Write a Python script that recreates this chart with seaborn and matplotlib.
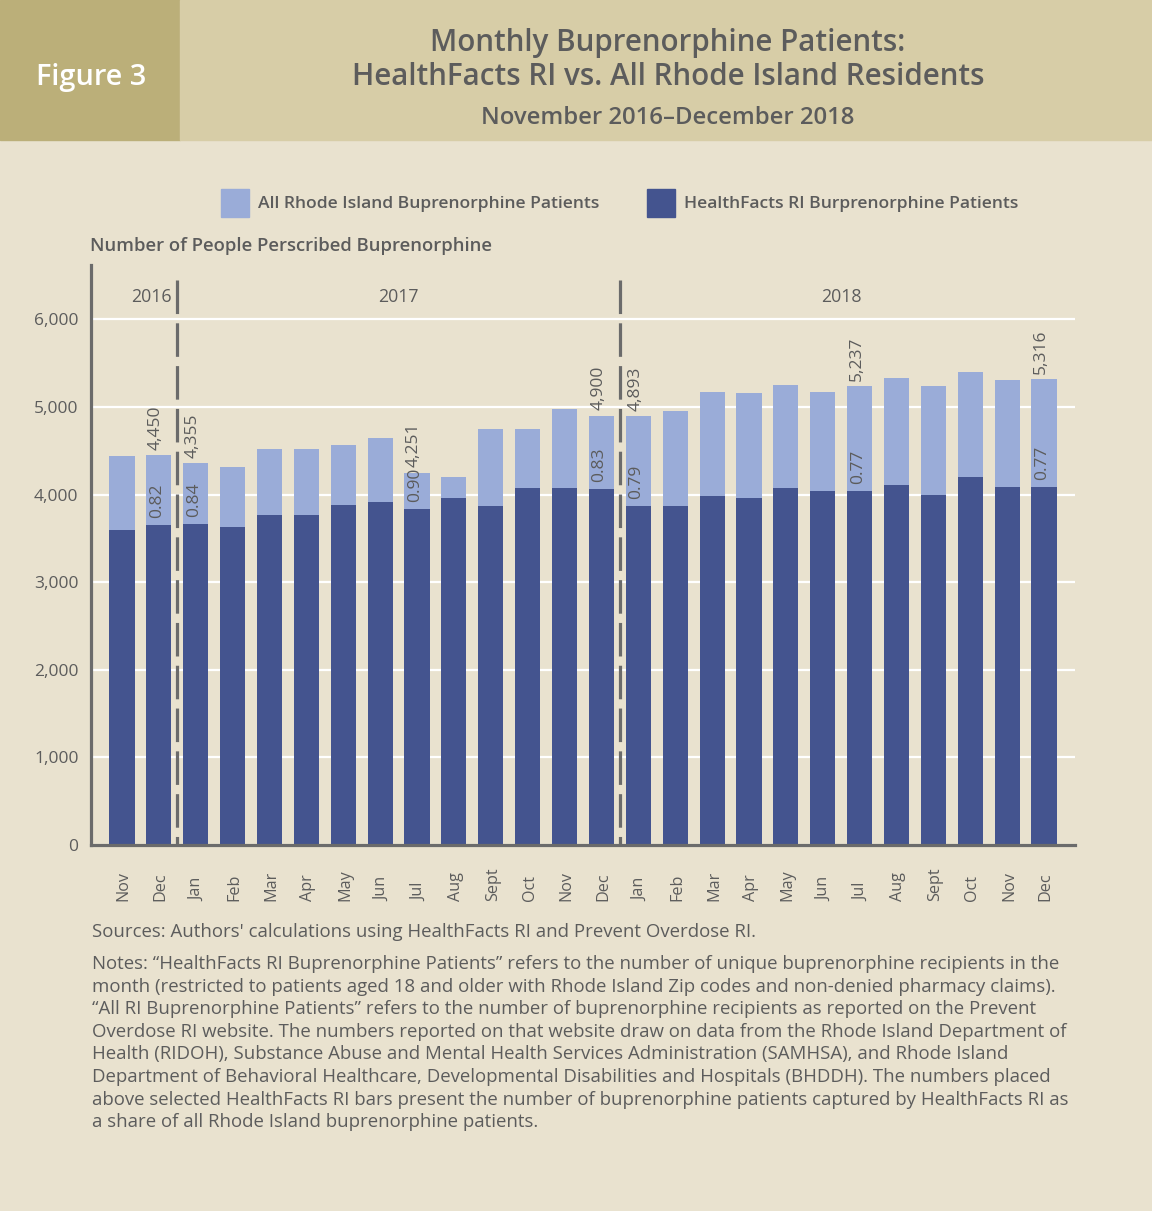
import matplotlib
matplotlib.use("Agg")
import matplotlib.pyplot as plt
import matplotlib.transforms as mtransforms
from matplotlib.patches import Rectangle
import seaborn as sns
import pandas as pd

# ---------------- data ----------------
months = ["Nov", "Dec", "Jan", "Feb", "Mar", "Apr", "May", "Jun", "Jul", "Aug", "Sept", "Oct", "Nov", "Dec",
          "Jan", "Feb", "Mar", "Apr", "May", "Jun", "Jul", "Aug", "Sept", "Oct", "Nov", "Dec"]
years = [2016, 2016] + [2017] * 12 + [2018] * 12
all_ri = [4440, 4450, 4355, 4310, 4515, 4515, 4560, 4650, 4251, 4205, 4745, 4745, 4975, 4900,
          4893, 4950, 5165, 5155, 5245, 5175, 5237, 5325, 5235, 5395, 5305, 5316]
healthfacts = [3600, 3650, 3660, 3625, 3770, 3770, 3885, 3910, 3830, 3965, 3865, 4070, 4070, 4060,
               3870, 3865, 3980, 3965, 4080, 4045, 4045, 4105, 4000, 4195, 4090, 4090]
label_idx = [1, 2, 8, 13, 14, 20, 25]
total_labels = ["4,450", "4,355", "4,251", "4,900", "4,893", "5,237", "5,316"]
ratio_labels = ["0.82", "0.84", "0.90", "0.83", "0.79", "0.77", "0.77"]
year_names = ["2016", "2017", "2018"]
yticks = [0, 1000, 2000, 3000, 4000, 5000, 6000]
ytick_labels = ["0", "1,000", "2,000", "3,000", "4,000", "5,000", "6,000"]

# ---------------- style ----------------
W, H = 1152, 1211
BG = "#E9E2CF"
BAND = "#D7CDA7"
BOX = "#BBAF79"
LIGHT = "#9AACD8"
DARK = "#44548F"
TXT = "#5C5C5C"
SPINE = "#6B6B6B"

sns.set_theme(style="white")
plt.rcParams["font.family"] = ["Open Sans", "DejaVu Sans"]

fig = plt.figure(figsize=(W / 100, H / 100), dpi=100)
fig.patch.set_facecolor(BG)


def fx(px):
    return px / W


def fy(py):
    return 1 - py / H


# header
fig.patches.append(Rectangle((0, fy(140)), fx(180), 140 / H, transform=fig.transFigure, color=BOX, zorder=0))
fig.patches.append(Rectangle((fx(180), fy(140)), 1 - fx(180), 140 / H, transform=fig.transFigure, color=BAND, zorder=0))
fig.text(fx(91), fy(78), "Figure 3", color="white", fontsize=20.8, fontweight="semibold", ha="center", va="center")
fig.text(fx(668), fy(43), "Monthly Buprenorphine Patients:", color=TXT, fontsize=21.3, fontweight="semibold",
         ha="center", va="center")
fig.text(fx(668), fy(77), "HealthFacts RI vs. All Rhode Island Residents", color=TXT, fontsize=21.3,
         fontweight="semibold", ha="center", va="center")
fig.text(fx(668), fy(118), "November 2016\u2013December 2018", color=TXT, fontsize=17.2, fontweight="semibold",
         ha="center", va="center")

# legend
fig.patches.append(Rectangle((fx(221), fy(217)), fx(28), 28 / H, transform=fig.transFigure, color=LIGHT))
fig.text(fx(258), fy(204), "All Rhode Island Buprenorphine Patients", color=TXT, fontsize=12.6,
         fontweight="semibold", ha="left", va="center")
fig.patches.append(Rectangle((fx(647), fy(217)), fx(28), 28 / H, transform=fig.transFigure, color=DARK))
fig.text(fx(684), fy(204), "HealthFacts RI Burprenorphine Patients", color=TXT, fontsize=12.6,
         fontweight="semibold", ha="left", va="center")
fig.text(fx(90), fy(246), "Number of People Perscribed Buprenorphine", color=TXT, fontsize=13.3,
         fontweight="semibold", ha="left", va="center")

# axes
ax_l, ax_r, ax_t, ax_b = 91, 1075, 265, 845
ax = fig.add_axes([fx(ax_l), fy(ax_b), (ax_r - ax_l) / W, (ax_b - ax_t) / H])
ax.set_facecolor(BG)

df = pd.DataFrame({"pos": list(range(len(months))), "month": months, "year": years,
                   "all_ri": all_ri, "hf": healthfacts})

sns.barplot(data=df, x="pos", y="all_ri", color=LIGHT, saturation=1, width=0.68, ax=ax, zorder=3,
            linewidth=0, edgecolor="none")
sns.barplot(data=df, x="pos", y="hf", color=DARK, saturation=1, width=0.68, ax=ax, zorder=4,
            linewidth=0, edgecolor="none")

ax.set_xlim(-0.84, len(months) - 1 + 0.84)
ax.set_ylim(0, 6620)
ax.set_yticks(yticks)
ax.set_yticklabels(ytick_labels)
ax.set_xticks(range(len(months)))
ax.set_xticklabels([])
ax.tick_params(axis="x", length=0)
ax.tick_params(axis="y", length=0, pad=9, labelsize=12.5, labelcolor=TXT)
ax.set_xlabel("")
ax.set_ylabel("")
ax.grid(axis="y", color="white", linewidth=1.6, zorder=1)
ax.set_axisbelow(True)
for s in ["top", "right"]:
    ax.spines[s].set_visible(False)
for s in ["left", "bottom"]:
    ax.spines[s].set_color(SPINE)
    ax.spines[s].set_linewidth(2.3)
    ax.spines[s].set_zorder(6)

trans = mtransforms.blended_transform_factory(ax.transData, ax.transAxes)

# month labels (rotated, start aligned)
ml = (ax_b - 901) / (ax_b - ax_t)
for i, m in enumerate(months):
    ax.text(i + 0.05, ml, m, transform=trans, rotation=90, ha="center", va="bottom", color=TXT, fontsize=11.6)

# year separators & labels
yr_first = [years.index(y) for y in [2016, 2017, 2018]]
yr_last = [len(years) - 1 - years[::-1].index(y) for y in [2016, 2017, 2018]]
for b in yr_first[1:]:
    ax.axvline(b - 0.5, ymin=(ax_b - 280) / (ax_b - ax_t), ymax=0, color=SPINE, linewidth=2.3,
               linestyle=(0, (10.5, 2.9)), zorder=5)
yl = (ax_b - 297) / (ax_b - ax_t)
ax.text(yr_first[1] - 0.65, yl, year_names[0], transform=trans, ha="right", va="center", color=TXT, fontsize=12.8)
for k in (1, 2):
    ax.text((yr_first[k] + yr_last[k]) / 2, yl, year_names[k], transform=trans, ha="center", va="center",
            color=TXT, fontsize=12.8)

# annotations
for i, tl, rl in zip(label_idx, total_labels, ratio_labels):
    ax.annotate(tl, (i - 0.08, all_ri[i]), xytext=(0, 4), textcoords="offset points", rotation=90,
                ha="center", va="bottom", color=TXT, fontsize=12.5, zorder=7)
    ax.annotate(rl, (i - 0.05, healthfacts[i]), xytext=(0, 5), textcoords="offset points", rotation=90,
                ha="center", va="bottom", color=TXT, fontsize=12.5, zorder=7)

# notes
fig.text(fx(92), fy(932), "Sources: Authors' calculations using HealthFacts RI and Prevent Overdose RI.",
         color=TXT, fontsize=13.4, ha="left", va="center")
notes = ("Notes: \u201cHealthFacts RI Buprenorphine Patients\u201d refers to the number of unique buprenorphine recipients in the\n"
         "month (restricted to patients aged 18 and older with Rhode Island Zip codes and non-denied pharmacy claims).\n"
         "\u201cAll RI Buprenorphine Patients\u201d refers to the number of buprenorphine recipients as reported on the Prevent\n"
         "Overdose RI website. The numbers reported on that website draw on data from the Rhode Island Department of\n"
         "Health (RIDOH), Substance Abuse and Mental Health Services Administration (SAMHSA), and Rhode Island\n"
         "Department of Behavioral Healthcare, Developmental Disabilities and Hospitals (BHDDH). The numbers placed\n"
         "above selected HealthFacts RI bars present the number of buprenorphine patients captured by HealthFacts RI as\n"
         "a share of all Rhode Island buprenorphine patients.")
fig.text(fx(92), fy(955), notes, color=TXT, fontsize=13.4, ha="left", va="top", linespacing=1.33)

fig.savefig("out.png", dpi=100, facecolor=BG)
